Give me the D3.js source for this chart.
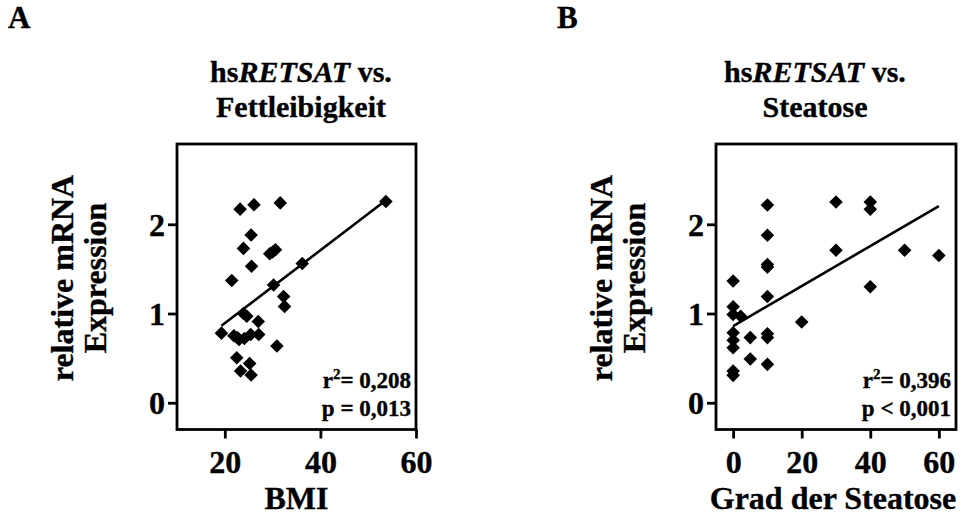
<!DOCTYPE html>
<html>
<head>
<meta charset="utf-8">
<script src="https://cdn.jsdelivr.net/npm/d3@7"></script>
<style>
  html, body { margin: 0; padding: 0; background: #fff; }
  svg text { font-family: "Liberation Serif", "Times New Roman", serif; font-weight: bold; fill: #000; stroke: #000; stroke-width: 0.35px; }
</style>
</head>
<body>
<svg id="chart" width="966" height="515"></svg>
<script>
// ---- Data ----
// Panel A: BMI vs relative mRNA expression
const bmiX = [53.7, 23.2, 26.1, 31.6, 25.5, 23.9, 29.4, 30.0, 30.6, 25.6, 36.2, 21.45, 30.2, 32.3, 32.5,
              23.9, 24.6, 27.0, 19.3, 21.9, 23.0, 24.1, 25.4, 27.1, 30.9, 22.5, 25.2, 23.3, 25.5, 22.6];
const bmiY = [2.255, 2.17, 2.22, 2.24, 1.88, 1.73, 1.67, 1.69, 1.715, 1.53, 1.56, 1.37, 1.32, 1.19, 1.08,
              1.0, 0.97, 0.91, 0.78, 0.75, 0.71, 0.72, 0.765, 0.765, 0.635, 0.505, 0.44, 0.355, 0.31, 0.73];
// Panel B: steatosis grade vs relative mRNA expression
const steatX = [0, 0, 0, 0, 0, 0, 0, 0, 2.2, 5, 5, 10, 10, 10, 10, 10, 10, 10, 10, 20, 30, 30, 40, 40, 40, 50, 60];
const steatY = [1.364, 1.076, 0.99, 0.785, 0.70, 0.617, 0.355, 0.307, 0.97, 0.73, 0.49,
                2.216, 1.877, 1.55, 1.52, 1.19, 0.774, 0.73, 0.43, 0.905, 2.25, 1.71, 2.25, 2.17, 1.30, 1.71, 1.65];
// Linear fits (intercept, slope, x-range)
const fitA = { intercept: 0.073, slope: 0.0409, from: 19.3, to: 53.7 };
const fitB = { intercept: 0.86, slope: 0.0224, from: 0, to: 60 };
// Tick values
const yTicks = [0, 1, 2];
const xTicksA = [20, 40, 60];
const xTicksB = [0, 20, 40, 60];
// Texts
const panelLetters = ["A", "B"];
const titlesA = ["hs", "RETSAT", " vs.", "Fettleibigkeit"];
const titlesB = ["hs", "RETSAT", " vs.", "Steatose"];
const yLabelLines = ["relative mRNA", "Expression"];
const xLabels = ["BMI", "Grad der Steatose"];
const statsA = ["0,208", "p = 0,013"];
const statsB = ["0,396", "p < 0,001"];

// ---- Drawing ----
const svg = d3.select("#chart");

function panel(cfg) {
  const g = svg.append("g");
  const x = d3.scaleLinear().domain(cfg.xDomain).range([cfg.left, cfg.right]);
  const y = d3.scaleLinear().domain([-0.3, 2.9]).range([cfg.bottom, cfg.top]);

  // frame
  g.append("rect")
    .attr("x", cfg.left).attr("y", cfg.top)
    .attr("width", cfg.right - cfg.left).attr("height", cfg.bottom - cfg.top)
    .attr("fill", "none").attr("stroke", "#000").attr("stroke-width", 2.8);

  // y axis
  const yAxis = d3.axisLeft(y).tickValues(yTicks).tickSize(9).tickPadding(3).tickFormat(d3.format("d"));
  const ya = g.append("g").attr("transform", `translate(${cfg.left},0)`).call(yAxis);
  ya.select(".domain").remove();
  ya.selectAll("line").attr("stroke", "#000").attr("stroke-width", 2.8);
  ya.selectAll("text").style("font-size", "32px").attr("dy", "0.34em");

  // x axis
  const xAxis = d3.axisBottom(x).tickValues(cfg.xTicks).tickSize(9).tickPadding(12).tickFormat(d3.format("d"));
  const xa = g.append("g").attr("transform", `translate(0,${cfg.bottom})`).call(xAxis);
  xa.select(".domain").remove();
  xa.selectAll("line").attr("stroke", "#000").attr("stroke-width", 2.8);
  xa.selectAll("text").style("font-size", "32px");

  // regression line
  const f = cfg.fit;
  g.append("line")
    .attr("x1", x(f.from)).attr("y1", y(f.intercept + f.slope * f.from))
    .attr("x2", x(f.to)).attr("y2", y(f.intercept + f.slope * f.to))
    .attr("stroke", "#000").attr("stroke-width", 2.6);

  // points (diamonds)
  const sym = d3.symbol().type(d3.symbolSquare).size(92);
  g.selectAll("path.pt")
    .data(cfg.xs.map((v, i) => [v, cfg.ys[i]]))
    .join("path")
    .attr("class", "pt")
    .attr("d", sym)
    .attr("transform", d => `translate(${x(d[0])},${y(d[1])}) rotate(45)`)
    .attr("fill", "#000");

  // title
  const t1 = g.append("text").attr("x", cfg.titleX).attr("y", 82)
    .attr("text-anchor", "middle").style("font-size", "30px");
  t1.append("tspan").text(cfg.title[0]);
  t1.append("tspan").style("font-style", "italic").text(cfg.title[1]);
  t1.append("tspan").text(cfg.title[2]);
  g.append("text").attr("x", cfg.titleX).attr("y", 117)
    .attr("text-anchor", "middle").style("font-size", "30px").text(cfg.title[3]);

  // y label
  yLabelLines.forEach((line, i) => {
    g.append("text")
      .attr("transform", `translate(${cfg.left - 104 + i * 33},278) rotate(-90)`)
      .attr("text-anchor", "middle").style("font-size", "32px").text(line);
  });

  // x label
  g.append("text").attr("x", (cfg.left + cfg.right) / 2 + cfg.xLabelShift).attr("y", 509)
    .attr("text-anchor", "middle").style("font-size", "32px").text(cfg.xLabel);

  // stats
  const s1 = g.append("text").attr("x", cfg.right - 5).attr("y", 388)
    .attr("text-anchor", "end").style("font-size", "23px");
  s1.append("tspan").text("r");
  s1.append("tspan").attr("dy", -9).style("font-size", "15px").text("2");
  s1.append("tspan").attr("dy", 9).text("= " + cfg.stats[0]);
  g.append("text").attr("x", cfg.right - 5).attr("y", 416)
    .attr("text-anchor", "end").style("font-size", "23px").text(cfg.stats[1]);

  // panel letter
  g.append("text").attr("x", cfg.letterX).attr("y", 28)
    .style("font-size", "31px").text(cfg.letter);
}

panel({
  left: 177, right: 416, top: 144, bottom: 429.5,
  xDomain: [10, 60], xTicks: xTicksA, xs: bmiX, ys: bmiY, fit: fitA,
  title: titlesA, titleX: 301, xLabel: xLabels[0], xLabelShift: 0,
  stats: statsA, letter: panelLetters[0], letterX: 8
});
panel({
  left: 716, right: 956, top: 144, bottom: 429.5,
  xDomain: [-5, 65], xTicks: xTicksB, xs: steatX, ys: steatY, fit: fitB,
  title: titlesB, titleX: 815, xLabel: xLabels[1], xLabelShift: -3,
  stats: statsB, letter: panelLetters[1], letterX: 557
});
</script>
</body>
</html>
